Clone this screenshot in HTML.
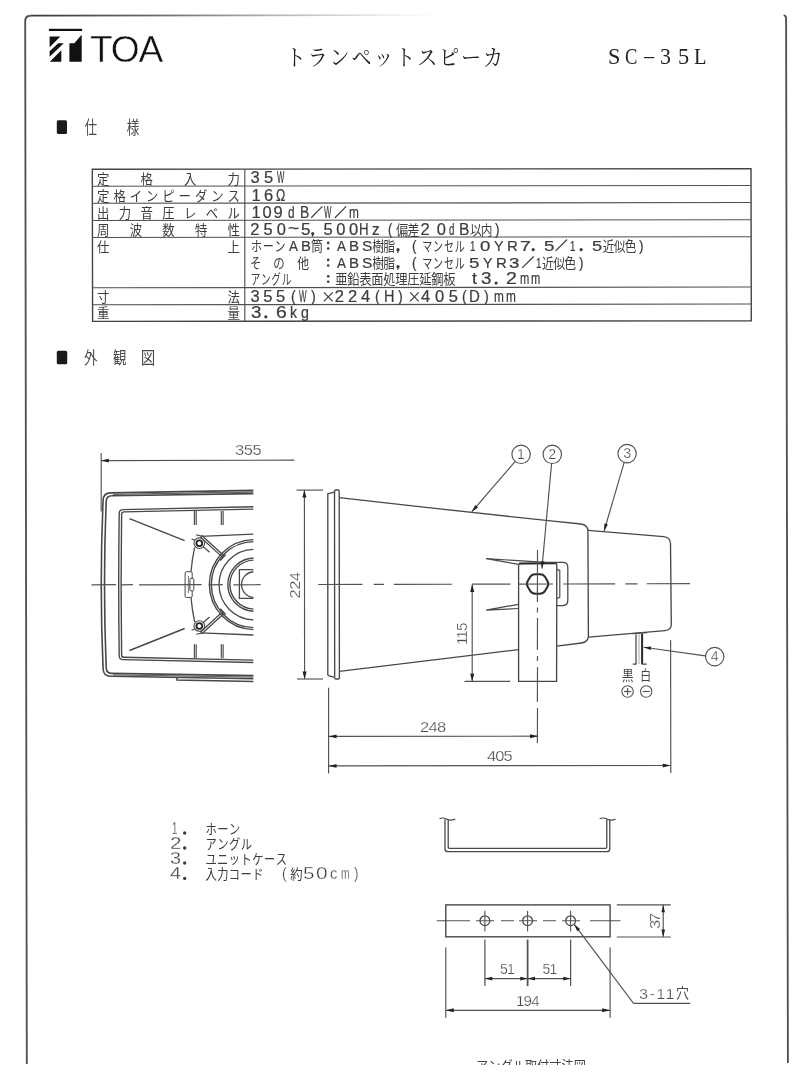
<!DOCTYPE html>
<html lang="ja"><head><meta charset="utf-8"><title>TOA SC-35L</title>
<style>
html,body{margin:0;padding:0;background:#fff}
body{width:808px;height:1080px;position:relative;overflow:hidden;font-family:"Liberation Sans",sans-serif}
#art{position:absolute;left:0;top:0;filter:blur(0.4px)}
#txt{position:absolute;left:0;top:0;width:808px;height:1080px;will-change:transform;filter:blur(0.4px)}
.t{position:absolute;white-space:pre;line-height:1;transform-origin:0 50%;display:block}
.c{-webkit-text-stroke:0.22px #3c3c3c}
.d{-webkit-text-stroke:0.25px #fff}
.w{-webkit-text-stroke:0.3px #fff}
.toa{-webkit-text-stroke:0.5px #fff}
.j{position:absolute;color:transparent;white-space:nowrap;overflow:hidden;line-height:1;font-family:"Liberation Sans",sans-serif}
.f{font-family:"Liberation Sans",sans-serif}
.r{font-family:"Liberation Serif",serif}
.v{transform-origin:0 0}
.k{font-family:"Liberation Sans","Noto Sans CJK JP",sans-serif}
.km{font-family:"Liberation Serif","Noto Serif CJK SC","Noto Sans CJK JP",serif}
</style></head><body>
<svg id="art" width="808" height="1080" viewBox="0 0 808 1080">
<linearGradient id="tg" gradientUnits="userSpaceOnUse" x1="30" y1="0" x2="440" y2="0"><stop offset="0" stop-color="#3a3a3a"/><stop offset="0.3" stop-color="#6a6a6a"/><stop offset="0.6" stop-color="#b5b5b5"/><stop offset="0.85" stop-color="#e8e8e8"/><stop offset="1" stop-color="#ffffff"/></linearGradient>
<path d="M26.8 1064 L25.2 21 Q25.2 15.8 30.5 15.7" stroke="#505050" stroke-width="1.856" fill="none" />
<path d="M30.5 15.7 L440 15.0" stroke="url(#tg)" stroke-width="1.7" fill="none"/>
<path d="M783.6 15.4 Q786.0 15.4 786.1 18.5 L787.9 1063" stroke="#505050" stroke-width="1.856" fill="none" />
<rect x="48.9" y="28.8" width="33.2" height="2.2" fill="#111"/>
<polygon points="49.6,36.4 60.4,36.4 49.6,47.2" fill="#111"/>
<polygon points="49.6,51.2 58.2,43.2 63.8,43.2 49.6,56.8" fill="#111"/>
<polygon points="49.8,61.8 61.3,50.3 61.3,61.8" fill="#111"/>
<polygon points="69.4,61.8 69.4,43.2 74.3,43.2 81.7,34.8 81.7,61.8" fill="#111"/>
<text class="km" transform="matrix(0.9126 0 0 1 285.78 64.79)" font-size="22.08" fill="#222" x="0 24 48 72 96 120 144 168 192 216" y="0">トランペットスピーカ</text>
<rect x="56.8" y="120.2" width="10.2" height="13.8" rx="1.5" fill="#1a1a1a"/>
<text class="k" transform="matrix(0.684 0 0 1 84.78 133.51)" font-size="18" fill="#4a4a4a" x="0" y="0">仕</text>
<text class="k" transform="matrix(0.707 0 0 1 126.80 133.53)" font-size="17.72" fill="#4a4a4a" x="0" y="0">様</text>
<rect x="56.8" y="350.7" width="10.4" height="13.6" rx="1.5" fill="#1a1a1a"/>
<text class="k" transform="matrix(0.772 0 0 1 84.07 364.25)" font-size="17.48" fill="#4a4a4a" x="0" y="0">外</text>
<text class="k" transform="matrix(0.783 0 0 1 113.08 364.24)" font-size="17.2" fill="#4a4a4a" x="0" y="0">観</text>
<text class="k" transform="matrix(0.851 0 0 1 140.68 363.88)" font-size="17.09" fill="#4a4a4a" x="0" y="0">図</text>
<polygon points="92.3,169.3 751.0,168.6 751.3,320.7 92.6,321.4" fill="none" stroke="#444" stroke-width="1.4"/>
<line x1="92.30" y1="186.20" x2="751.00" y2="185.50" stroke="#505050" stroke-width="1.0496"/>
<line x1="92.30" y1="203.30" x2="751.00" y2="202.60" stroke="#505050" stroke-width="1.0496"/>
<line x1="92.30" y1="220.50" x2="751.00" y2="219.80" stroke="#505050" stroke-width="1.0496"/>
<line x1="92.30" y1="237.40" x2="751.00" y2="236.70" stroke="#505050" stroke-width="1.0496"/>
<line x1="92.30" y1="287.80" x2="751.00" y2="287.10" stroke="#505050" stroke-width="1.0496"/>
<line x1="92.30" y1="304.80" x2="751.00" y2="304.10" stroke="#505050" stroke-width="1.0496"/>
<line x1="244.80" y1="169.30" x2="244.80" y2="321.40" stroke="#505050" stroke-width="1.152"/>
<text class="k" transform="matrix(0.8986 0 0 1 97.10 183.74)" font-size="13.8" fill="#3c3c3c" x="0 48.37 96.74 145.12" y="0">定格入力</text>
<text class="k" transform="matrix(0.8986 0 0 1 97.10 200.74)" font-size="13.8" fill="#3c3c3c" x="0 18.14 36.28 54.42 72.56 90.70 108.84 126.98 145.12" y="0">定格インピーダンス</text>
<text class="k" transform="matrix(0.8986 0 0 1 97.10 217.84)" font-size="13.8" fill="#3c3c3c" x="0 24.19 48.37 72.56 96.74 120.93 145.12" y="0">出力音圧レベル</text>
<text class="k" transform="matrix(0.8986 0 0 1 97.10 234.94)" font-size="13.8" fill="#3c3c3c" x="0 36.28 72.56 108.84 145.12" y="0">周波数特性</text>
<text class="k" transform="matrix(0.8986 0 0 1 97.10 251.74)" font-size="13.8" fill="#3c3c3c" x="0 145.12" y="0">仕上</text>
<text class="k" transform="matrix(0.8986 0 0 1 97.10 302.14)" font-size="13.8" fill="#3c3c3c" x="0 145.12" y="0">寸法</text>
<text class="k" transform="matrix(0.8986 0 0 1 97.10 318.24)" font-size="13.8" fill="#3c3c3c" x="0 145.12" y="0">重量</text>
<line x1="311.20" y1="217.80" x2="322.40" y2="206.40" stroke="#3c3c3c" stroke-width="1.216"/>
<line x1="335.00" y1="217.80" x2="346.20" y2="206.40" stroke="#3c3c3c" stroke-width="1.216"/>
<circle cx="312.7" cy="233.6" r="1.6" fill="#3c3c3c"/>
<line x1="313.50" y1="234.20" x2="312.10" y2="236.60" stroke="#3c3c3c" stroke-width="1.152"/>
<text class="k" transform="matrix(0.8606 0 0 1 396.10 234.70)" font-size="14.2" fill="#3c3c3c" x="0 13.11" y="0">偏差</text>
<text class="k" transform="matrix(0.8239 0 0 1 469.90 234.70)" font-size="14.2" fill="#3c3c3c" x="0 13.11" y="0">以内</text>
<text class="k" transform="matrix(0.7775 0 0 1 250.95 250.90)" font-size="14.2" fill="#3c3c3c" x="0 15.21 30.42" y="0">ホーン</text>
<text class="k" transform="matrix(0.8493 0 0 1 311.00 250.90)" font-size="14.2" fill="#3c3c3c" x="0" y="0">筒</text>
<circle cx="328.2" cy="248.5" r="1.3" fill="#3c3c3c"/>
<circle cx="328.2" cy="242.9" r="1.3" fill="#3c3c3c"/>
<text class="k" transform="matrix(0.831 0 0 1 372.30 250.90)" font-size="14.2" fill="#3c3c3c" x="0 13.12" y="0">樹脂</text>
<circle cx="398.0" cy="249.7" r="1.6" fill="#3c3c3c"/>
<line x1="398.80" y1="250.30" x2="397.40" y2="252.70" stroke="#3c3c3c" stroke-width="1.152"/>
<text class="k" transform="matrix(0.7056 0 0 1 422.28 250.90)" font-size="14.2" fill="#3c3c3c" x="0 15.31 30.63 45.94" y="0">マンセル</text>
<circle cx="533.2" cy="249.7" r="1.6" fill="#3c3c3c"/>
<line x1="555.60" y1="250.90" x2="567.10" y2="239.50" stroke="#3c3c3c" stroke-width="1.216"/>
<circle cx="581.1" cy="249.7" r="1.6" fill="#3c3c3c"/>
<text class="k" transform="matrix(0.8204 0 0 1 602.80 250.90)" font-size="14.2" fill="#3c3c3c" x="0 13.38 26.76" y="0">近似色</text>
<text class="k" transform="matrix(0.8056 0 0 1 250.00 267.90)" font-size="14.2" fill="#3c3c3c" x="0 28.80" y="0">その</text>
<text class="k" transform="matrix(0.8352 0 0 1 297.20 267.90)" font-size="14.2" fill="#3c3c3c" x="0" y="0">他</text>
<circle cx="328.2" cy="265.5" r="1.3" fill="#3c3c3c"/>
<circle cx="328.2" cy="259.9" r="1.3" fill="#3c3c3c"/>
<text class="k" transform="matrix(0.831 0 0 1 372.30 267.90)" font-size="14.2" fill="#3c3c3c" x="0 13.12" y="0">樹脂</text>
<circle cx="398.0" cy="266.7" r="1.6" fill="#3c3c3c"/>
<line x1="398.80" y1="267.30" x2="397.40" y2="269.70" stroke="#3c3c3c" stroke-width="1.152"/>
<text class="k" transform="matrix(0.7056 0 0 1 422.28 267.90)" font-size="14.2" fill="#3c3c3c" x="0 15.31 30.63 45.94" y="0">マンセル</text>
<line x1="522.20" y1="267.90" x2="533.70" y2="256.50" stroke="#3c3c3c" stroke-width="1.216"/>
<text class="k" transform="matrix(0.8352 0 0 1 542.00 267.90)" font-size="14.2" fill="#3c3c3c" x="0 13.37 26.75" y="0">近似色</text>
<text class="k" transform="matrix(0.6768 0 0 1 250.66 284.10)" font-size="14.2" fill="#3c3c3c" x="0 15.31 30.61 45.92" y="0">アングル</text>
<circle cx="328.2" cy="281.8" r="1.3" fill="#3c3c3c"/>
<circle cx="328.2" cy="276.2" r="1.3" fill="#3c3c3c"/>
<text class="k" transform="matrix(0.8662 0 0 1 335.20 284.10)" font-size="14.2" fill="#3c3c3c" x="0 13.87 27.73 41.60 55.47 69.33 83.20 97.07 110.93 124.80" y="0">亜鉛表面処理圧延鋼板</text>
<circle cx="496.1" cy="283.0" r="1.6" fill="#3c3c3c"/>
<line x1="323.90" y1="301.40" x2="332.70" y2="292.40" stroke="#3c3c3c" stroke-width="1.152"/>
<line x1="323.90" y1="292.40" x2="332.70" y2="301.40" stroke="#3c3c3c" stroke-width="1.152"/>
<line x1="410.10" y1="301.40" x2="418.70" y2="292.40" stroke="#3c3c3c" stroke-width="1.152"/>
<line x1="410.10" y1="292.40" x2="418.70" y2="301.40" stroke="#3c3c3c" stroke-width="1.152"/>
<circle cx="265.8" cy="316.8" r="1.6" fill="#3c3c3c"/>
<path d="M253.40 490.40 L110.80 492.90 Q103.30 492.90 103.10 500.40 Q99.40 584.60 103.10 668.80 Q103.30 676.30 110.80 676.30 L253.40 678.80" stroke="#484848" stroke-width="1.6" fill="none" />
<path d="M253.40 493.60 L111.90 495.80 Q106.40 495.80 106.20 501.30 Q102.80 584.60 106.20 667.90 Q106.40 673.40 111.90 673.40 L253.40 675.60" stroke="#484848" stroke-width="1.6" fill="none" />
<line x1="113.00" y1="494.30" x2="253.40" y2="492.00" stroke="#666" stroke-width="1.28"/>
<line x1="113.00" y1="674.90" x2="253.40" y2="677.20" stroke="#666" stroke-width="1.28"/>
<path d="M176.8 677 L177 680 L253.4 681.6" stroke="#484848" stroke-width="1.536" fill="none" />
<path d="M253.40 506.70 L123.00 509.60 Q119.40 509.60 119.20 513.20 Q118.20 584.60 119.20 656.00 Q119.40 659.60 123.00 659.60 L253.40 662.50" stroke="#484848" stroke-width="1.408" fill="none" />
<path d="M253.40 509.10 L124.00 511.90 Q121.80 511.90 121.60 514.10 Q120.60 584.60 121.60 655.10 Q121.80 657.30 124.00 657.30 L253.40 660.10" stroke="#484848" stroke-width="1.408" fill="none" />
<line x1="194.40" y1="511.00" x2="194.40" y2="524.90" stroke="#484848" stroke-width="1.152"/>
<line x1="196.20" y1="511.00" x2="196.20" y2="524.90" stroke="#484848" stroke-width="1.152"/>
<line x1="194.40" y1="644.30" x2="194.40" y2="658.20" stroke="#484848" stroke-width="1.152"/>
<line x1="196.20" y1="644.30" x2="196.20" y2="658.20" stroke="#484848" stroke-width="1.152"/>
<line x1="221.30" y1="511.00" x2="221.30" y2="524.90" stroke="#484848" stroke-width="1.152"/>
<line x1="223.10" y1="511.00" x2="223.10" y2="524.90" stroke="#484848" stroke-width="1.152"/>
<line x1="221.30" y1="644.30" x2="221.30" y2="658.20" stroke="#484848" stroke-width="1.152"/>
<line x1="223.10" y1="644.30" x2="223.10" y2="658.20" stroke="#484848" stroke-width="1.152"/>
<line x1="129.50" y1="518.70" x2="184.60" y2="540.70" stroke="#484848" stroke-width="1.408"/>
<line x1="129.50" y1="650.50" x2="184.60" y2="628.50" stroke="#484848" stroke-width="1.408"/>
<circle cx="199.3" cy="543.2" r="5.3" fill="none" stroke="#484848" stroke-width="1.1"/>
<circle cx="199.3" cy="543.2" r="2.9" fill="none" stroke="#222" stroke-width="1.8"/>
<line x1="200.60" y1="536.40" x2="253.40" y2="534.20" stroke="#484848" stroke-width="1.28"/>
<line x1="200.30" y1="537.00" x2="222.60" y2="557.40" stroke="#484848" stroke-width="1.28"/>
<line x1="201.60" y1="535.20" x2="224.20" y2="556.00" stroke="#484848" stroke-width="1.28"/>
<line x1="220.20" y1="560.40" x2="225.60" y2="554.60" stroke="#484848" stroke-width="1.536"/>
<line x1="203.40" y1="546.70" x2="209.50" y2="552.20" stroke="#484848" stroke-width="1.152"/>
<line x1="191.60" y1="539.00" x2="195.00" y2="540.20" stroke="#484848" stroke-width="1.152"/>
<line x1="196.20" y1="534.90" x2="201.20" y2="536.00" stroke="#484848" stroke-width="1.152"/>
<path d="M194.6 547.4 Q192.0 560.0 191.0 571.8" stroke="#484848" stroke-width="1.28" fill="none" />
<circle cx="199.3" cy="626.0" r="5.3" fill="none" stroke="#484848" stroke-width="1.1"/>
<circle cx="199.3" cy="626.0" r="2.9" fill="none" stroke="#222" stroke-width="1.8"/>
<line x1="200.60" y1="632.80" x2="253.40" y2="635.00" stroke="#484848" stroke-width="1.28"/>
<line x1="200.30" y1="632.20" x2="222.60" y2="611.80" stroke="#484848" stroke-width="1.28"/>
<line x1="201.60" y1="634.00" x2="224.20" y2="613.20" stroke="#484848" stroke-width="1.28"/>
<line x1="220.20" y1="608.80" x2="225.60" y2="614.60" stroke="#484848" stroke-width="1.536"/>
<line x1="203.40" y1="622.50" x2="209.50" y2="617.00" stroke="#484848" stroke-width="1.152"/>
<line x1="191.60" y1="630.20" x2="195.00" y2="629.00" stroke="#484848" stroke-width="1.152"/>
<line x1="196.20" y1="634.30" x2="201.20" y2="633.20" stroke="#484848" stroke-width="1.152"/>
<path d="M194.6 621.8 Q192.0 609.2 191.0 597.4" stroke="#484848" stroke-width="1.28" fill="none" />
<rect x="185.1" y="571.7" width="7.1" height="25.8" rx="1.4" fill="#fff" stroke="#484848" stroke-width="1"/>
<rect x="189.9" y="578.4" width="3.9" height="12.4" rx="1" fill="#fff" stroke="#484848" stroke-width="1"/>
<line x1="188.40" y1="576.00" x2="188.40" y2="593.00" stroke="#777" stroke-width="1.024"/>
<path d="M253.40 539.61 A45.00 45.00 0 0 0 253.40 629.59" stroke="#484848" stroke-width="1.408" fill="none" />
<path d="M253.40 541.61 A43.00 43.00 0 0 0 253.40 627.59" stroke="#484848" stroke-width="1.408" fill="none" />
<path d="M253.40 549.41 A35.20 35.20 0 0 0 253.40 619.79" stroke="#484848" stroke-width="1.28" fill="none" />
<path d="M253.40 558.02 A26.60 26.60 0 0 0 253.40 611.18" stroke="#484848" stroke-width="1.408" fill="none" />
<path d="M253.40 560.12 A24.50 24.50 0 0 0 253.40 609.08" stroke="#484848" stroke-width="1.408" fill="none" />
<path d="M253.40 571.74 A12.90 12.90 0 0 0 253.40 597.46" stroke="#484848" stroke-width="1.28" fill="none" />
<path d="M253.4 569.6 L239.4 569.6 L239.4 598.4 L253.4 598.4" stroke="#484848" stroke-width="1.28" fill="none" />
<line x1="91.50" y1="584.80" x2="116.00" y2="584.70" stroke="#525252" stroke-width="1.152"/>
<line x1="121.50" y1="584.80" x2="133.00" y2="584.70" stroke="#525252" stroke-width="1.152"/>
<line x1="139.00" y1="584.80" x2="201.60" y2="584.70" stroke="#525252" stroke-width="1.152"/>
<line x1="208.90" y1="584.80" x2="222.80" y2="584.70" stroke="#525252" stroke-width="1.152"/>
<line x1="233.40" y1="584.80" x2="260.60" y2="584.70" stroke="#525252" stroke-width="1.152"/>
<line x1="101.20" y1="452.90" x2="101.20" y2="511.50" stroke="#525252" stroke-width="1.152"/>
<line x1="101.20" y1="460.60" x2="294.30" y2="460.20" stroke="#525252" stroke-width="1.152"/>
<polygon points="101.00,460.60 108.84,458.65 108.84,462.56" fill="#222"/>
<line x1="296.50" y1="490.10" x2="322.90" y2="490.10" stroke="#525252" stroke-width="1.152"/>
<line x1="297.10" y1="679.00" x2="323.00" y2="679.00" stroke="#525252" stroke-width="1.152"/>
<line x1="304.40" y1="490.10" x2="304.60" y2="679.00" stroke="#525252" stroke-width="1.152"/>
<polygon points="304.40,490.20 306.47,497.59 302.33,497.59" fill="#222"/>
<polygon points="304.60,678.90 302.53,671.51 306.67,671.51" fill="#222"/>
<path d="M327.8 675.3 L327.8 493.8 L334.3 492.1" stroke="#484848" stroke-width="1.344" fill="none" />
<path d="M327.8 675.3 L334.3 677.3" stroke="#484848" stroke-width="1.344" fill="none" />
<path d="M334.7 677.6 L334.5 491.2 Q334.5 490.0 335.7 490.0 L338.0 490.0 Q339.2 490.0 339.2 491.2 L339.4 677.8 Q339.4 679.0 338.2 679.0 L335.9 679.0 Q334.7 679.0 334.7 677.8" stroke="#484848" stroke-width="1.344" fill="none" />
<path d="M339.3 497.6 Q470 512.5 581.0 524.0 Q587.4 524.8 587.9 530.5" stroke="#484848" stroke-width="1.344" fill="none" />
<path d="M339.3 671.4 L518.5 649.6" stroke="#484848" stroke-width="1.344" fill="none" />
<path d="M556.6 646.2 L581.5 643.0 Q587.6 642.2 588.3 637.2" stroke="#484848" stroke-width="1.344" fill="none" />
<line x1="587.90" y1="529.50" x2="588.40" y2="637.40" stroke="#484848" stroke-width="1.344"/>
<path d="M588.0 530.4 L663.5 536.7 Q670.2 537.3 670.5 543.5 L671.3 624.5 Q671.3 630.0 665.0 630.6 L588.4 637.2" stroke="#484848" stroke-width="1.344" fill="none" />
<path d="M518.6 681.3 L518.6 565.3 Q518.6 563.6 520.3 563.6 L555.0 563.2 Q556.8 563.2 556.8 565 L556.6 681.3 Z" stroke="#484848" stroke-width="1.344" fill="none" />
<line x1="519.20" y1="563.50" x2="556.20" y2="563.20" stroke="#2a2a2a" stroke-width="1.92"/>
<path d="M518.6 564.4 L486.1 558.6 L545.5 562.4" stroke="#484848" stroke-width="1.216" fill="none" />
<path d="M518.6 604.3 L486.1 610.1 L518.6 608.5" stroke="#484848" stroke-width="1.216" fill="none" />
<path d="M545 562.3 L562.8 562.3 Q567.8 562.3 567.8 567.3 L567.8 600.6 Q567.8 605.6 562.8 605.6 L556.8 605.6" stroke="#484848" stroke-width="1.28" fill="none" />
<path d="M556.9 569.4 L559.8 570.4 L559.8 597.4 L556.9 598.4" stroke="#484848" stroke-width="1.152" fill="none" />
<path d="M547.46 580.98 Q549.20 583.90 547.46 586.82 L545.14 590.72 Q543.40 593.64 539.92 593.64 L535.28 593.64 Q531.80 593.64 530.06 590.72 L527.74 586.82 Q526.00 583.90 527.74 580.98 L530.06 577.08 Q531.80 574.16 535.28 574.16 L539.92 574.16 Q543.40 574.16 545.14 577.08 Z" fill="none" stroke="#2a2a2a" stroke-width="2.0" stroke-linejoin="round"/>
<line x1="318.20" y1="584.50" x2="362.40" y2="584.40" stroke="#525252" stroke-width="1.152"/>
<line x1="373.70" y1="584.38" x2="384.10" y2="584.35" stroke="#525252" stroke-width="1.152"/>
<line x1="393.80" y1="584.33" x2="452.00" y2="584.21" stroke="#525252" stroke-width="1.152"/>
<line x1="472.00" y1="584.16" x2="510.40" y2="584.08" stroke="#525252" stroke-width="1.152"/>
<line x1="518.00" y1="584.06" x2="553.00" y2="583.98" stroke="#525252" stroke-width="1.152"/>
<line x1="563.20" y1="583.96" x2="615.20" y2="583.85" stroke="#525252" stroke-width="1.152"/>
<line x1="625.40" y1="583.82" x2="637.50" y2="583.80" stroke="#525252" stroke-width="1.152"/>
<line x1="646.70" y1="583.78" x2="690.00" y2="583.68" stroke="#525252" stroke-width="1.152"/>
<line x1="537.50" y1="550.00" x2="537.40" y2="602.00" stroke="#525252" stroke-width="1.152"/>
<line x1="537.50" y1="607.50" x2="537.40" y2="612.50" stroke="#525252" stroke-width="1.152"/>
<line x1="537.50" y1="618.00" x2="537.40" y2="650.00" stroke="#525252" stroke-width="1.152"/>
<line x1="537.50" y1="656.00" x2="537.40" y2="661.00" stroke="#525252" stroke-width="1.152"/>
<line x1="537.50" y1="667.00" x2="537.40" y2="702.00" stroke="#525252" stroke-width="1.152"/>
<line x1="537.50" y1="708.00" x2="537.40" y2="743.00" stroke="#525252" stroke-width="1.152"/>
<line x1="472.20" y1="584.40" x2="472.20" y2="681.30" stroke="#525252" stroke-width="1.152"/>
<polygon points="472.20,584.60 474.27,591.99 470.13,591.99" fill="#222"/>
<polygon points="472.20,681.20 470.13,673.81 474.27,673.81" fill="#222"/>
<line x1="464.50" y1="681.30" x2="510.30" y2="681.30" stroke="#525252" stroke-width="1.152"/>
<line x1="328.60" y1="687.80" x2="328.60" y2="773.50" stroke="#525252" stroke-width="1.152"/>
<line x1="670.60" y1="640.30" x2="670.80" y2="773.00" stroke="#525252" stroke-width="1.152"/>
<line x1="328.60" y1="736.40" x2="538.00" y2="736.20" stroke="#525252" stroke-width="1.152"/>
<polygon points="328.70,736.40 336.54,734.44 336.54,738.36" fill="#222"/>
<polygon points="537.90,736.20 530.06,738.16 530.06,734.25" fill="#222"/>
<line x1="328.60" y1="765.90" x2="670.70" y2="765.50" stroke="#525252" stroke-width="1.152"/>
<polygon points="328.70,765.90 336.54,763.94 336.54,767.86" fill="#222"/>
<polygon points="670.60,765.50 662.76,767.46 662.76,763.54" fill="#222"/>
<line x1="632.30" y1="633.60" x2="647.10" y2="632.60" stroke="#484848" stroke-width="1.28"/>
<line x1="636.00" y1="634.30" x2="636.00" y2="664.00" stroke="#484848" stroke-width="1.28"/>
<line x1="642.10" y1="633.80" x2="642.10" y2="664.00" stroke="#2a2a2a" stroke-width="2.048"/>
<line x1="639.00" y1="634.30" x2="639.00" y2="664.00" stroke="#999" stroke-width="0.896"/>
<path d="M632.8 664.2 L636.6 664.2 M641.5 664.2 L646.8 664.2" stroke="#484848" stroke-width="1.28" fill="none" />
<text class="k" transform="matrix(0.8286 0 0 1 622.00 679.92)" font-size="14" fill="#444" x="0" y="0">黒</text>
<text class="k" transform="matrix(0.7714 0 0 1 640.20 679.92)" font-size="14" fill="#444" x="0" y="0">白</text>
<circle cx="627.6" cy="691.5" r="5.7" fill="none" stroke="#525252" stroke-width="1.1"/>
<line x1="624.00" y1="691.50" x2="631.20" y2="691.50" stroke="#525252" stroke-width="1.152"/>
<line x1="627.60" y1="687.90" x2="627.60" y2="695.10" stroke="#525252" stroke-width="1.152"/>
<circle cx="646.2" cy="691.5" r="5.7" fill="none" stroke="#525252" stroke-width="1.1"/>
<line x1="642.60" y1="691.50" x2="649.80" y2="691.50" stroke="#525252" stroke-width="1.152"/>
<circle cx="521.1" cy="454.3" r="9.2" fill="none" stroke="#525252" stroke-width="1.15"/>
<circle cx="552.3" cy="454.3" r="9.2" fill="none" stroke="#525252" stroke-width="1.15"/>
<circle cx="627.1" cy="453.6" r="9.2" fill="none" stroke="#525252" stroke-width="1.15"/>
<circle cx="714.7" cy="656.6" r="9.2" fill="none" stroke="#525252" stroke-width="1.15"/>
<line x1="515.00" y1="461.70" x2="471.90" y2="511.70" stroke="#525252" stroke-width="1.152"/>
<polygon points="471.90,511.70 475.26,504.98 478.05,507.39" fill="#222"/>
<line x1="551.60" y1="463.50" x2="541.90" y2="568.60" stroke="#525252" stroke-width="1.152"/>
<polygon points="541.90,568.60 540.74,561.18 544.40,561.52" fill="#222"/>
<line x1="624.10" y1="462.70" x2="604.10" y2="531.00" stroke="#525252" stroke-width="1.152"/>
<polygon points="604.10,531.00 604.38,523.50 607.91,524.53" fill="#222"/>
<line x1="705.50" y1="655.90" x2="643.70" y2="647.20" stroke="#525252" stroke-width="1.152"/>
<polygon points="643.70,647.20 651.17,646.39 650.65,650.04" fill="#222"/>
<circle cx="184.7" cy="833.0" r="1.7" fill="#3c3c3c"/>
<text class="k" transform="matrix(0.8188 0 0 1 205.40 833.74)" font-size="13.8" fill="#3c3c3c" x="0 14.44 28.88" y="0">ホーン</text>
<circle cx="184.7" cy="848.0" r="1.7" fill="#3c3c3c"/>
<text class="k" transform="matrix(0.8188 0 0 1 205.40 848.74)" font-size="13.8" fill="#3c3c3c" x="0 14.37 28.74 43.11" y="0">アングル</text>
<circle cx="184.7" cy="863.0" r="1.7" fill="#3c3c3c"/>
<text class="k" transform="matrix(0.8188 0 0 1 205.40 863.74)" font-size="13.8" fill="#3c3c3c" x="0 14.30 28.60 42.90 57.20 71.50 85.79" y="0">ユニットケース</text>
<circle cx="184.7" cy="878.4" r="1.7" fill="#3c3c3c"/>
<text class="k" transform="matrix(0.8188 0 0 1 205.40 878.94)" font-size="13.8" fill="#3c3c3c" x="0 14.33 28.67 43.00 57.34" y="0">入力コード</text>
<text class="k" transform="matrix(0.8986 0 0 1 290.20 878.94)" font-size="13.8" fill="#3c3c3c" x="0" y="0">約</text>
<path d="M445.0 819.2 L445.0 848.7 Q445.0 851.7 448.0 851.7 L606.8 851.7 Q609.8 851.7 609.8 848.7 L609.8 819.2" stroke="#484848" stroke-width="1.28" fill="none" />
<path d="M448.2 819.2 L448.2 847.2 Q448.2 848.3 449.4 848.3 L605.6 848.3 Q606.8 848.3 606.8 847.2 L606.8 819.2" stroke="#484848" stroke-width="1.28" fill="none" />
<path d="M439.6 818.6 Q443.5 817.2 447.0 819.2 T455.4 819.0" stroke="#484848" stroke-width="1.152" fill="none" />
<path d="M599.7 818.6 Q603.5 817.2 607.5 819.2 T615.5 819.0" stroke="#484848" stroke-width="1.152" fill="none" />
<rect x="445.8" y="904.9" width="164.3" height="31.9" fill="none" stroke="#484848" stroke-width="1.4"/>
<circle cx="484.9" cy="920.7" r="4.9" fill="none" stroke="#484848" stroke-width="1.25"/>
<line x1="484.90" y1="910.80" x2="484.90" y2="931.50" stroke="#525252" stroke-width="1.088"/>
<line x1="484.90" y1="939.60" x2="484.90" y2="986.10" stroke="#525252" stroke-width="1.216"/>
<circle cx="527.6" cy="920.7" r="4.9" fill="none" stroke="#484848" stroke-width="1.25"/>
<line x1="527.60" y1="910.80" x2="527.60" y2="931.50" stroke="#525252" stroke-width="1.088"/>
<line x1="527.60" y1="939.60" x2="527.60" y2="986.10" stroke="#525252" stroke-width="1.792"/>
<circle cx="570.6" cy="920.7" r="4.9" fill="none" stroke="#484848" stroke-width="1.25"/>
<line x1="570.60" y1="910.80" x2="570.60" y2="931.50" stroke="#525252" stroke-width="1.088"/>
<line x1="570.60" y1="939.60" x2="570.60" y2="986.10" stroke="#525252" stroke-width="1.216"/>
<line x1="436.70" y1="920.80" x2="470.00" y2="920.70" stroke="#525252" stroke-width="1.088"/>
<line x1="476.00" y1="920.80" x2="494.00" y2="920.70" stroke="#525252" stroke-width="1.088"/>
<line x1="501.00" y1="920.80" x2="514.00" y2="920.70" stroke="#525252" stroke-width="1.088"/>
<line x1="519.00" y1="920.80" x2="537.00" y2="920.70" stroke="#525252" stroke-width="1.088"/>
<line x1="543.00" y1="920.80" x2="556.00" y2="920.70" stroke="#525252" stroke-width="1.088"/>
<line x1="562.00" y1="920.80" x2="580.00" y2="920.70" stroke="#525252" stroke-width="1.088"/>
<line x1="590.00" y1="920.80" x2="620.50" y2="920.70" stroke="#525252" stroke-width="1.088"/>
<line x1="484.90" y1="978.60" x2="570.60" y2="978.60" stroke="#525252" stroke-width="1.152"/>
<polygon points="485.00,978.60 492.28,976.76 492.28,980.44" fill="#222"/>
<polygon points="527.50,978.60 520.22,980.44 520.22,976.76" fill="#222"/>
<polygon points="527.70,978.60 534.98,976.76 534.98,980.44" fill="#222"/>
<polygon points="570.50,978.60 563.22,980.44 563.22,976.76" fill="#222"/>
<line x1="445.80" y1="947.50" x2="445.80" y2="1017.80" stroke="#525252" stroke-width="1.152"/>
<line x1="610.10" y1="947.50" x2="610.10" y2="1017.80" stroke="#525252" stroke-width="1.152"/>
<line x1="445.80" y1="1010.30" x2="610.10" y2="1010.30" stroke="#525252" stroke-width="1.152"/>
<polygon points="445.90,1010.30 453.74,1008.34 453.74,1012.25" fill="#222"/>
<polygon points="610.00,1010.30 602.16,1012.25 602.16,1008.34" fill="#222"/>
<line x1="616.80" y1="904.90" x2="670.70" y2="904.90" stroke="#525252" stroke-width="1.152"/>
<line x1="616.80" y1="937.00" x2="670.70" y2="937.00" stroke="#525252" stroke-width="1.152"/>
<line x1="663.20" y1="904.90" x2="663.20" y2="937.00" stroke="#525252" stroke-width="1.152"/>
<polygon points="663.20,905.00 665.04,912.28 661.36,912.28" fill="#222"/>
<polygon points="663.20,936.90 661.36,929.62 665.04,929.62" fill="#222"/>
<line x1="633.50" y1="1003.30" x2="574.30" y2="924.40" stroke="#525252" stroke-width="1.152"/>
<polygon points="574.30,924.40 580.14,929.12 577.20,931.33" fill="#222"/>
<line x1="633.50" y1="1003.30" x2="690.30" y2="1003.30" stroke="#525252" stroke-width="1.152"/>
<text class="k" transform="matrix(0.9155 0 0 1 676.00 997.90)" font-size="14.2" fill="#4a4a4a" x="0" y="0">穴</text>
<text class="k" transform="matrix(0.9683 0 0 1 476.00 1069.69)" font-size="12.6" fill="#444" x="0 12.63 25.25 37.88 50.50 63.13 75.75 88.38 101.00" y="0">アングル取付寸法図</text>
<rect x="0" y="1065" width="808" height="15" fill="#fff"/>
</svg>
<div id="txt">
<span class="t f toa" style="left:89.96px;top:30.50px;font-size:37.20px;letter-spacing:-1.18px;transform:scaleX(1.0000);color:#111">TOA</span>
<span class="t r " style="left:608.41px;top:43.90px;font-size:24.00px;letter-spacing:0.00px;transform:scaleX(0.9265);color:#222">S</span>
<span class="t r " style="left:625.24px;top:43.90px;font-size:24.00px;letter-spacing:0.00px;transform:scaleX(0.7738);color:#222">C</span>
<span class="t r " style="left:643.94px;top:42.50px;font-size:24.00px;letter-spacing:0.00px;transform:scaleX(0.8436);color:#222">–</span>
<span class="t r " style="left:660.46px;top:43.90px;font-size:24.00px;letter-spacing:0.00px;transform:scaleX(0.9078);color:#222">3</span>
<span class="t r " style="left:677.70px;top:43.90px;font-size:24.00px;letter-spacing:0.00px;transform:scaleX(0.9309);color:#222">5</span>
<span class="t r " style="left:693.91px;top:43.90px;font-size:24.00px;letter-spacing:0.00px;transform:scaleX(0.8541);color:#222">L</span>
<span class="t f c" style="left:250.47px;top:169.43px;font-size:16.50px;letter-spacing:4.37px;transform:scaleX(1.0000);color:#3c3c3c">35</span>
<span class="t f c" style="left:276.67px;top:169.43px;font-size:16.50px;letter-spacing:0.00px;transform:scaleX(0.4727);color:#3c3c3c">W</span>
<span class="t f c" style="left:251.54px;top:186.53px;font-size:16.50px;letter-spacing:3.33px;transform:scaleX(1.0000);color:#3c3c3c">16</span>
<span class="t f c" style="left:276.17px;top:186.53px;font-size:16.50px;letter-spacing:0.00px;transform:scaleX(0.7506);color:#3c3c3c">Ω</span>
<span class="t f c" style="left:251.54px;top:203.63px;font-size:16.50px;letter-spacing:1.83px;transform:scaleX(1.0000);color:#3c3c3c">109</span>
<span class="t f c" style="left:288.41px;top:203.63px;font-size:16.50px;letter-spacing:0.00px;transform:scaleX(0.7143);color:#3c3c3c">d</span>
<span class="t f c" style="left:299.56px;top:203.63px;font-size:16.50px;letter-spacing:0.00px;transform:scaleX(0.8427);color:#3c3c3c">B</span>
<span class="t f c" style="left:324.47px;top:203.63px;font-size:16.50px;letter-spacing:0.00px;transform:scaleX(0.4727);color:#3c3c3c">W</span>
<span class="t f c" style="left:348.51px;top:203.63px;font-size:16.50px;letter-spacing:0.00px;transform:scaleX(0.7179);color:#3c3c3c">m</span>
<span class="t f c" style="left:250.37px;top:220.63px;font-size:16.50px;letter-spacing:4.00px;transform:scaleX(1.0000);color:#3c3c3c">250</span>
<span class="t f c" style="left:288.33px;top:219.63px;font-size:16.50px;letter-spacing:0.00px;transform:scaleX(1.1774);color:#3c3c3c">~</span>
<span class="t f c" style="left:300.82px;top:220.63px;font-size:16.50px;letter-spacing:0.00px;transform:scaleX(1.0354);color:#3c3c3c">5</span>
<span class="t f c" style="left:323.44px;top:220.63px;font-size:16.50px;letter-spacing:3.61px;transform:scaleX(1.0000);color:#3c3c3c">500</span>
<span class="t f c" style="left:359.01px;top:220.63px;font-size:16.50px;letter-spacing:0.00px;transform:scaleX(0.8029);color:#3c3c3c">H</span>
<span class="t f c" style="left:372.39px;top:220.63px;font-size:16.50px;letter-spacing:0.00px;transform:scaleX(0.9172);color:#3c3c3c">z</span>
<span class="t f c" style="left:387.80px;top:220.63px;font-size:16.50px;letter-spacing:0.00px;transform:scaleX(0.7772);color:#3c3c3c">(</span>
<span class="t f c" style="left:420.47px;top:220.63px;font-size:16.50px;letter-spacing:7.02px;transform:scaleX(1.0000);color:#3c3c3c">20</span>
<span class="t f c" style="left:449.19px;top:220.63px;font-size:16.50px;letter-spacing:0.00px;transform:scaleX(0.5930);color:#3c3c3c">d</span>
<span class="t f c" style="left:459.22px;top:220.63px;font-size:16.50px;letter-spacing:0.00px;transform:scaleX(0.9451);color:#3c3c3c">B</span>
<span class="t f c" style="left:494.82px;top:220.63px;font-size:16.50px;letter-spacing:0.00px;transform:scaleX(0.8229);color:#3c3c3c">)</span>
<span class="t f c" style="left:289.07px;top:237.75px;font-size:15.30px;letter-spacing:0.00px;transform:scaleX(0.8773);color:#3c3c3c">A</span>
<span class="t f c" style="left:300.88px;top:237.75px;font-size:15.30px;letter-spacing:0.00px;transform:scaleX(0.9702);color:#3c3c3c">B</span>
<span class="t f c" style="left:336.57px;top:237.75px;font-size:15.30px;letter-spacing:0.00px;transform:scaleX(0.8773);color:#3c3c3c">A</span>
<span class="t f c" style="left:349.37px;top:237.75px;font-size:15.30px;letter-spacing:0.00px;transform:scaleX(0.9824);color:#3c3c3c">B</span>
<span class="t f c" style="left:361.60px;top:237.75px;font-size:15.30px;letter-spacing:0.00px;transform:scaleX(1.0104);color:#3c3c3c">S</span>
<span class="t f c" style="left:411.76px;top:237.75px;font-size:15.30px;letter-spacing:0.00px;transform:scaleX(0.8874);color:#3c3c3c">(</span>
<span class="t f c" style="left:469.76px;top:237.75px;font-size:15.30px;letter-spacing:0.00px;transform:scaleX(0.6367);color:#3c3c3c">1</span>
<span class="t f c" style="left:479.67px;top:237.75px;font-size:15.30px;letter-spacing:0.00px;transform:scaleX(1.2169);color:#3c3c3c">0</span>
<span class="t f c" style="left:494.24px;top:237.75px;font-size:15.30px;letter-spacing:0.00px;transform:scaleX(0.9336);color:#3c3c3c">Y</span>
<span class="t f c" style="left:506.67px;top:237.75px;font-size:15.30px;letter-spacing:0.00px;transform:scaleX(0.9797);color:#3c3c3c">R</span>
<span class="t f c" style="left:520.25px;top:237.75px;font-size:15.30px;letter-spacing:0.00px;transform:scaleX(1.2796);color:#3c3c3c">7</span>
<span class="t f c" style="left:543.55px;top:237.75px;font-size:15.30px;letter-spacing:0.00px;transform:scaleX(1.2269);color:#3c3c3c">5</span>
<span class="t f c" style="left:569.56px;top:237.75px;font-size:15.30px;letter-spacing:0.00px;transform:scaleX(0.6367);color:#3c3c3c">1</span>
<span class="t f c" style="left:591.77px;top:237.75px;font-size:15.30px;letter-spacing:0.00px;transform:scaleX(1.1855);color:#3c3c3c">5</span>
<span class="t f c" style="left:639.22px;top:237.75px;font-size:15.30px;letter-spacing:0.00px;transform:scaleX(0.8874);color:#3c3c3c">)</span>
<span class="t f c" style="left:336.57px;top:254.75px;font-size:15.30px;letter-spacing:0.00px;transform:scaleX(0.8773);color:#3c3c3c">A</span>
<span class="t f c" style="left:349.37px;top:254.75px;font-size:15.30px;letter-spacing:0.00px;transform:scaleX(0.9824);color:#3c3c3c">B</span>
<span class="t f c" style="left:361.60px;top:254.75px;font-size:15.30px;letter-spacing:0.00px;transform:scaleX(1.0104);color:#3c3c3c">S</span>
<span class="t f c" style="left:411.76px;top:254.75px;font-size:15.30px;letter-spacing:0.00px;transform:scaleX(0.8874);color:#3c3c3c">(</span>
<span class="t f c" style="left:468.55px;top:254.75px;font-size:15.30px;letter-spacing:0.00px;transform:scaleX(1.2269);color:#3c3c3c">5</span>
<span class="t f c" style="left:483.09px;top:254.75px;font-size:15.30px;letter-spacing:0.00px;transform:scaleX(0.9336);color:#3c3c3c">Y</span>
<span class="t f c" style="left:495.52px;top:254.75px;font-size:15.30px;letter-spacing:0.00px;transform:scaleX(0.9797);color:#3c3c3c">R</span>
<span class="t f c" style="left:509.44px;top:254.75px;font-size:15.30px;letter-spacing:0.00px;transform:scaleX(1.2269);color:#3c3c3c">3</span>
<span class="t f c" style="left:535.86px;top:254.75px;font-size:15.30px;letter-spacing:0.00px;transform:scaleX(0.6367);color:#3c3c3c">1</span>
<span class="t f c" style="left:578.72px;top:254.75px;font-size:15.30px;letter-spacing:0.00px;transform:scaleX(0.8874);color:#3c3c3c">)</span>
<span class="t f c" style="left:471.93px;top:270.62px;font-size:15.80px;letter-spacing:0.00px;transform:scaleX(1.1401);color:#3c3c3c">t</span>
<span class="t f c" style="left:481.44px;top:270.62px;font-size:15.80px;letter-spacing:0.00px;transform:scaleX(1.1881);color:#3c3c3c">3</span>
<span class="t f c" style="left:506.47px;top:270.62px;font-size:15.80px;letter-spacing:0.00px;transform:scaleX(1.2365);color:#3c3c3c">2</span>
<span class="t f c" style="left:520.46px;top:270.62px;font-size:15.80px;letter-spacing:0.00px;transform:scaleX(0.7046);color:#3c3c3c">m</span>
<span class="t f c" style="left:530.86px;top:270.62px;font-size:15.80px;letter-spacing:0.00px;transform:scaleX(0.7046);color:#3c3c3c">m</span>
<span class="t f c" style="left:250.47px;top:288.03px;font-size:16.50px;letter-spacing:3.57px;transform:scaleX(1.0000);color:#3c3c3c">355</span>
<span class="t f c" style="left:290.91px;top:288.03px;font-size:16.50px;letter-spacing:0.00px;transform:scaleX(0.8686);color:#3c3c3c">(</span>
<span class="t f c" style="left:299.16px;top:288.03px;font-size:16.50px;letter-spacing:0.00px;transform:scaleX(0.4856);color:#3c3c3c">W</span>
<span class="t f c" style="left:310.52px;top:288.03px;font-size:16.50px;letter-spacing:0.00px;transform:scaleX(0.8686);color:#3c3c3c">)</span>
<span class="t f c" style="left:334.77px;top:288.03px;font-size:16.50px;letter-spacing:3.97px;transform:scaleX(1.0000);color:#3c3c3c">224</span>
<span class="t f c" style="left:375.01px;top:288.03px;font-size:16.50px;letter-spacing:0.00px;transform:scaleX(0.8686);color:#3c3c3c">(</span>
<span class="t f c" style="left:383.51px;top:288.03px;font-size:16.50px;letter-spacing:0.00px;transform:scaleX(0.8788);color:#3c3c3c">H</span>
<span class="t f c" style="left:398.12px;top:288.03px;font-size:16.50px;letter-spacing:0.00px;transform:scaleX(0.8686);color:#3c3c3c">)</span>
<span class="t f c" style="left:421.12px;top:288.03px;font-size:16.50px;letter-spacing:4.60px;transform:scaleX(1.0000);color:#3c3c3c">405</span>
<span class="t f c" style="left:461.71px;top:288.03px;font-size:16.50px;letter-spacing:0.00px;transform:scaleX(0.8686);color:#3c3c3c">(</span>
<span class="t f c" style="left:469.32px;top:288.03px;font-size:16.50px;letter-spacing:0.00px;transform:scaleX(0.9107);color:#3c3c3c">D</span>
<span class="t f c" style="left:484.02px;top:288.03px;font-size:16.50px;letter-spacing:0.00px;transform:scaleX(0.8686);color:#3c3c3c">)</span>
<span class="t f c" style="left:493.81px;top:288.03px;font-size:16.50px;letter-spacing:0.00px;transform:scaleX(0.7179);color:#3c3c3c">m</span>
<span class="t f c" style="left:505.71px;top:288.03px;font-size:16.50px;letter-spacing:0.00px;transform:scaleX(0.7179);color:#3c3c3c">m</span>
<span class="t f c" style="left:250.69px;top:303.83px;font-size:16.50px;letter-spacing:0.00px;transform:scaleX(1.1377);color:#3c3c3c">3</span>
<span class="t f c" style="left:276.22px;top:303.83px;font-size:16.50px;letter-spacing:0.00px;transform:scaleX(1.1690);color:#3c3c3c">6</span>
<span class="t f c" style="left:290.15px;top:303.83px;font-size:16.50px;letter-spacing:0.00px;transform:scaleX(0.8517);color:#3c3c3c">k</span>
<span class="t f c" style="left:301.10px;top:303.83px;font-size:16.50px;letter-spacing:0.00px;transform:scaleX(0.8625);color:#3c3c3c">g</span>
<span class="t f d" style="left:235.47px;top:443.05px;font-size:14.00px;letter-spacing:-0.36px;transform:scaleX(1.1800);color:#4a4a4a">355</span>
<span class="t f d" style="left:283.72px;top:577.76px;font-size:14.00px;letter-spacing:-0.44px;color:#4a4a4a;transform-origin:11.38px 7.04px;transform:rotate(-90deg) scaleX(1.180)">224</span>
<span class="t f d" style="left:451.49px;top:625.56px;font-size:14.00px;letter-spacing:-0.81px;color:#4a4a4a;transform-origin:11.11px 7.04px;transform:rotate(-90deg) scaleX(1.080)">115</span>
<span class="t f d" style="left:419.97px;top:719.95px;font-size:14.00px;letter-spacing:-0.56px;transform:scaleX(1.1800);color:#4a4a4a">248</span>
<span class="t f d" style="left:486.62px;top:749.35px;font-size:14.00px;letter-spacing:-0.76px;transform:scaleX(1.1800);color:#4a4a4a">405</span>
<span class="t f d" style="left:516.96px;top:447.16px;font-size:14.20px;letter-spacing:0.00px;transform:scaleX(1.0000);color:#4a4a4a">1</span>
<span class="t f d" style="left:548.35px;top:447.16px;font-size:14.20px;letter-spacing:0.00px;transform:scaleX(1.0000);color:#4a4a4a">2</span>
<span class="t f d" style="left:623.19px;top:446.46px;font-size:14.20px;letter-spacing:0.00px;transform:scaleX(1.0000);color:#4a4a4a">3</span>
<span class="t f d" style="left:710.80px;top:649.46px;font-size:14.20px;letter-spacing:0.00px;transform:scaleX(1.0000);color:#4a4a4a">4</span>
<span class="t f w" style="left:171.56px;top:820.03px;font-size:16.50px;letter-spacing:0.00px;transform:scaleX(0.5904);color:#3c3c3c">1</span>
<span class="t f w" style="left:169.86px;top:835.03px;font-size:16.50px;letter-spacing:0.00px;transform:scaleX(1.2505);color:#3c3c3c">2</span>
<span class="t f w" style="left:170.14px;top:850.03px;font-size:16.50px;letter-spacing:0.00px;transform:scaleX(1.2016);color:#3c3c3c">3</span>
<span class="t f w" style="left:170.04px;top:865.43px;font-size:16.50px;letter-spacing:0.00px;transform:scaleX(1.2027);color:#3c3c3c">4</span>
<span class="t f w" style="left:282.16px;top:865.43px;font-size:16.50px;letter-spacing:0.00px;transform:scaleX(0.8229);color:#3c3c3c">(</span>
<span class="t f w" style="left:303.27px;top:865.43px;font-size:16.50px;letter-spacing:0.00px;transform:scaleX(1.2527);color:#3c3c3c">5</span>
<span class="t f w" style="left:315.78px;top:865.43px;font-size:16.50px;letter-spacing:0.00px;transform:scaleX(1.2678);color:#3c3c3c">0</span>
<span class="t f w" style="left:330.07px;top:865.43px;font-size:16.50px;letter-spacing:0.00px;transform:scaleX(0.8996);color:#3c3c3c">c</span>
<span class="t f w" style="left:341.12px;top:865.43px;font-size:16.50px;letter-spacing:0.00px;transform:scaleX(0.6228);color:#3c3c3c">m</span>
<span class="t f w" style="left:353.52px;top:865.43px;font-size:16.50px;letter-spacing:0.00px;transform:scaleX(0.8229);color:#3c3c3c">)</span>
<span class="t f d" style="left:500.04px;top:962.15px;font-size:14.00px;letter-spacing:-0.93px;transform:scaleX(1.0000);color:#4a4a4a">51</span>
<span class="t f d" style="left:542.54px;top:962.15px;font-size:14.00px;letter-spacing:-0.93px;transform:scaleX(1.0000);color:#4a4a4a">51</span>
<span class="t f d" style="left:515.65px;top:994.05px;font-size:14.00px;letter-spacing:-0.76px;transform:scaleX(1.0800);color:#4a4a4a">194</span>
<span class="t f d" style="left:647.88px;top:913.56px;font-size:14.00px;letter-spacing:-1.96px;color:#4a4a4a;transform-origin:6.72px 7.04px;transform:rotate(-90deg) scaleX(1.180)">37</span>
<span class="t f d" style="left:638.68px;top:985.50px;font-size:15.00px;letter-spacing:1.29px;transform:scaleX(1.0800);color:#4a4a4a">3-11</span>
</div>
</body></html>
